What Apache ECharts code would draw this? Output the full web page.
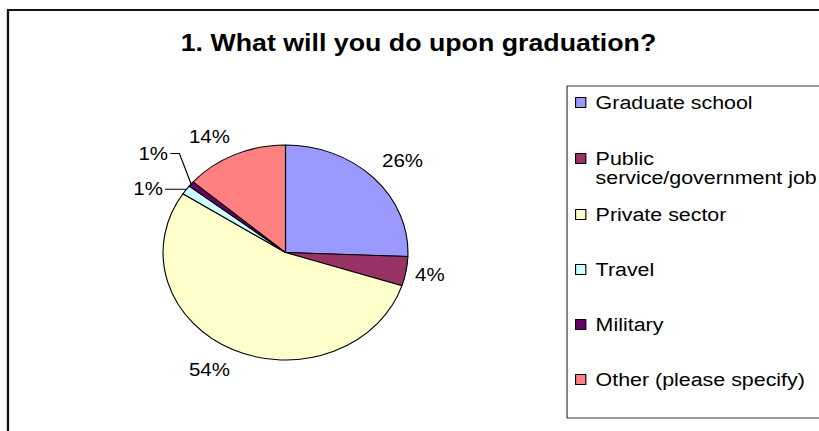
<!DOCTYPE html>
<html><head><meta charset="utf-8">
<script src="https://cdn.jsdelivr.net/npm/echarts@6/dist/echarts.min.js"></script>
<style>
html,body{margin:0;padding:0;background:#fff;overflow:hidden}
#wrap{width:819px;height:431px;overflow:hidden;position:relative;background:#fff}
#chart{width:719px;height:431px;transform:scaleX(1.13908);transform-origin:0 0}
</style></head><body><div id="wrap"><div id="chart"></div></div>
<script>
// ---- data ----
const titleText = '1. What will you do upon graduation?';
const categories = ['Graduate school', 'Public service/government job', 'Private sector', 'Travel', 'Military', 'Other (please specify)'];
const values = [25.6, 4.4, 54.2, 1.4, 0.8, 13.6];
const legendLabels = ['Graduate school', ' \nPublic\nservice/government job', 'Private sector', 'Travel', 'Military', 'Other (please specify)'];

// ---- styles ----
const colors = ['#9999FF', '#993366', '#FFFFCC', '#CCFFFF', '#660066', '#FF8080'];
const FONT = 'Liberation Sans, Arial, sans-serif';
const labelCfg = [
  {len: 25.2, len2: 0, dist: -10.8, line: false},
  {len: 21.1, len2: 0, dist: -12.9, line: false},
  {len: 22.2, len2: 0, dist: -7.2, line: false},
  {len: 1, len2: 17.5, dist: 1.9, line: true},
  {len: 20, len2: 8, dist: 2, line: true},
  {len: 20, len2: 0, dist: -4.1, line: false}
];
const militaryShift = {dx: 5.1, dy: -17.7, seg: 8};

const chart = echarts.init(document.getElementById('chart'), null, {renderer: 'svg'});

const pieData = categories.map((name, i) => ({
  name: name,
  value: values[i],
  itemStyle: {color: colors[i]},
  label: {distanceToLabelLine: labelCfg[i].dist},
  labelLine: {show: labelCfg[i].line, length: labelCfg[i].len, length2: labelCfg[i].len2}
}));

chart.setOption({
  animation: false,
  backgroundColor: 'transparent',
  title: {
    text: titleText,
    left: 367.4,
    textAlign: 'center',
    top: 31,
    padding: 0,
    textStyle: {fontFamily: FONT, fontSize: 23.5, fontWeight: 'bold', color: '#000'}
  },
  legend: {
    orient: 'vertical',
    left: 504.8,
    top: 75,
    padding: 0,
    itemWidth: 9,
    itemHeight: 10,
    itemGap: 0,
    icon: 'rect',
    selectedMode: false,
    itemStyle: {borderColor: '#000', borderWidth: 1},
    data: categories.map((n, i) => ({
      name: n,
      textStyle: {
        padding: i === 1 ? [0, 0, 0, 3.6] : [18, 0, 18, 3.6],
        backgroundColor: 'rgba(255,255,255,0)'
      }
    })),
    formatter: n => legendLabels[categories.indexOf(n)],
    textStyle: {fontFamily: FONT, fontSize: 18.8, lineHeight: 19, color: '#000'}
  },
  graphic: [
    {type: 'rect', silent: true, z: -10,
     shape: {x: 7, y: 10, width: 760, height: 460},
     style: {fill: 'none', stroke: '#111', lineWidth: 2}},
    {type: 'rect', silent: true, z: -10,
     shape: {x: 497.8, y: 86, width: 300, height: 332},
     style: {fill: 'none', stroke: '#333', lineWidth: 1}}
  ],
  series: [{
    type: 'pie',
    center: [250.64, 252.5],
    radius: 107.5,
    startAngle: 90,
    clockwise: true,
    avoidLabelOverlap: false,
    itemStyle: {borderColor: '#000', borderWidth: 1},
    label: {
      show: true,
      position: 'outside',
      alignTo: 'none',
      formatter: p => Math.round(p.percent) + '%',
      fontFamily: FONT,
      fontSize: 18,
      color: '#000'
    },
    labelLine: {smooth: false, lineStyle: {color: '#000', width: 1}},
    emphasis: {disabled: true},
    labelLayout: function (p) {
      if (p.dataIndex === 4 && p.labelLinePoints) {
        const pts = p.labelLinePoints;
        const x3 = pts[2][0] + militaryShift.dx;
        const y3 = pts[2][1] + militaryShift.dy;
        return {
          dx: militaryShift.dx,
          dy: militaryShift.dy,
          labelLinePoints: [pts[0], [x3 + militaryShift.seg, y3], [x3, y3]]
        };
      }
      return {};
    },
    data: pieData
  }]
});
</script></body></html>
